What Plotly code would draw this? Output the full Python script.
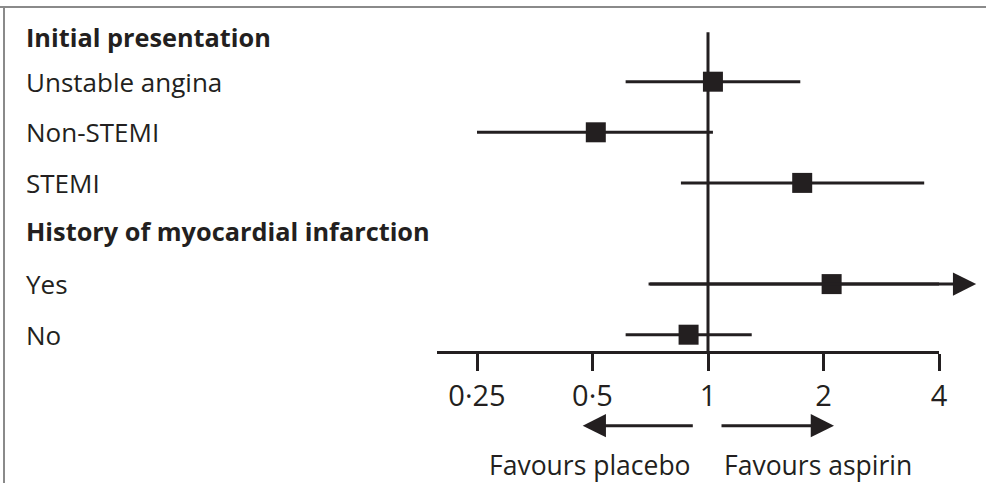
import math
import plotly.graph_objects as go

# ---- data ----
row_labels = ["Initial presentation", "Unstable angina", "Non-STEMI", "STEMI",
              "History of myocardial infarction", "Yes", "No"]
is_header = [True, False, False, False, True, False, False]

categories = ["Unstable angina", "Non-STEMI", "STEMI", "Yes", "No"]
hazard_ratio = [1.03, 0.51, 1.76, 2.10, 0.89]
ci_lower = [0.61, 0.25, 0.85, 0.70, 0.61]
ci_upper = [1.74, 1.03, 3.66, 5.00, 1.30]

tick_values = [0.25, 0.5, 1, 2, 4]
tick_labels = ["0·25", "0·5", "1", "2", "4"]
favour_labels = ["Favours placebo", "Favours aspirin"]

# ---- style ----
INK = "#231f20"
FONT = "Open Sans"
W, H = 986, 483
ML, MR, MT, MB = 437, 47, 0, 132
PW, PH = W - ML - MR, H - MT - MB

n = len(row_labels)
row_y = {lab: n - 1 - i for i, lab in enumerate(row_labels)}
header_nudge = {"Initial presentation": -0.11, "History of myocardial infarction": 0.05}
x_min_log = math.log10(1) - (708 - 437) / 115.5 * math.log10(2)
x_max_log = math.log10(max(tick_values))
px_per_row = 50.6
y_bottom = (334.7 - (H - MB)) / px_per_row
y_top = y_bottom + PH / px_per_row

fig = go.Figure()

# reference line at 1
fig.add_trace(go.Scatter(x=[1, 1], y=[y_bottom, y_top - 32.3 / px_per_row],
                         mode="lines", line=dict(color=INK, width=3),
                         hoverinfo="skip", showlegend=False))

# confidence intervals (lines)
xs, ys = [], []
for cat, lo, hi in zip(categories, ci_lower, ci_upper):
    xs += [lo, hi, None]
    ys += [row_y[cat], row_y[cat], None]
fig.add_trace(go.Scatter(x=xs, y=ys, mode="lines",
                         line=dict(color=INK, width=3),
                         hoverinfo="skip", showlegend=False))

# point estimates
fig.add_trace(go.Scatter(x=hazard_ratio, y=[row_y[c] for c in categories],
                         mode="markers",
                         marker=dict(symbol="square", size=20, color=INK,
                                     line=dict(width=0)),
                         showlegend=False))

annotations = []
# arrow for intervals beyond axis
for cat, lo, hi in zip(categories, ci_lower, ci_upper):
    if hi > max(tick_values):
        annotations.append(dict(x=math.log10(hi), y=row_y[cat], xref="x", yref="y",
                                ax=math.log10(lo), ay=row_y[cat], axref="x", ayref="y",
                                text="", showarrow=True, arrowhead=2, arrowsize=1.55,
                                arrowwidth=3, arrowcolor=INK))

# row labels
for lab, hd in zip(row_labels, is_header):
    annotations.append(dict(x=(24 - ML) / PW, y=row_y[lab] + header_nudge.get(lab, 0),
                            xref="paper", yref="y",
                            xanchor="left", yanchor="middle", showarrow=False,
                            text=f"<b>{lab}</b>" if hd else lab,
                            font=dict(family=FONT, size=25.3 if hd else 26, color=INK)))

def px_x(p):
    return (p - ML) / PW

def px_y(p):
    return (H - MB - p) / PH

# favours arrows
annotations.append(dict(x=px_x(582.7), y=px_y(425.7), xref="paper", yref="paper",
                        ax=111.6, ay=0, text="", showarrow=True, arrowhead=2,
                        arrowsize=1.55, arrowwidth=3, arrowcolor=INK))
annotations.append(dict(x=px_x(834), y=px_y(425.7), xref="paper", yref="paper",
                        ax=-114, ay=0, text="", showarrow=True, arrowhead=2,
                        arrowsize=1.55, arrowwidth=3, arrowcolor=INK))
for lab, cx in zip(favour_labels, [589.5, 817.5]):
    annotations.append(dict(x=px_x(cx), y=px_y(465.5), xref="paper", yref="paper",
                            xanchor="center", yanchor="middle", showarrow=False,
                            text=lab, font=dict(family=FONT, size=26.5, color=INK)))

shapes = [
    dict(type="line", xref="paper", yref="paper", x0=px_x(0), x1=px_x(W),
         y0=px_y(7), y1=px_y(7), line=dict(color="#8a8a8a", width=2)),
    dict(type="line", xref="paper", yref="paper", x0=px_x(4), x1=px_x(4),
         y0=px_y(7), y1=px_y(H), line=dict(color="#8a8a8a", width=2)),
]

fig.update_layout(
    width=W, height=H,
    margin=dict(l=ML, r=MR, t=MT, b=MB, pad=0),
    paper_bgcolor="white", plot_bgcolor="white",
    showlegend=False,
    annotations=annotations, shapes=shapes,
    xaxis=dict(type="log", range=[x_min_log, x_max_log],
               tickvals=tick_values, ticktext=tick_labels,
               showline=True, linewidth=3, linecolor=INK,
               ticks="outside", ticklen=17, tickwidth=3, tickcolor=INK,
               showgrid=False, zeroline=False,
               tickfont=dict(family=FONT, size=29, color=INK)),
    yaxis=dict(range=[y_bottom, y_top], visible=False, showgrid=False,
               zeroline=False),
)

fig.write_html("out.html")
